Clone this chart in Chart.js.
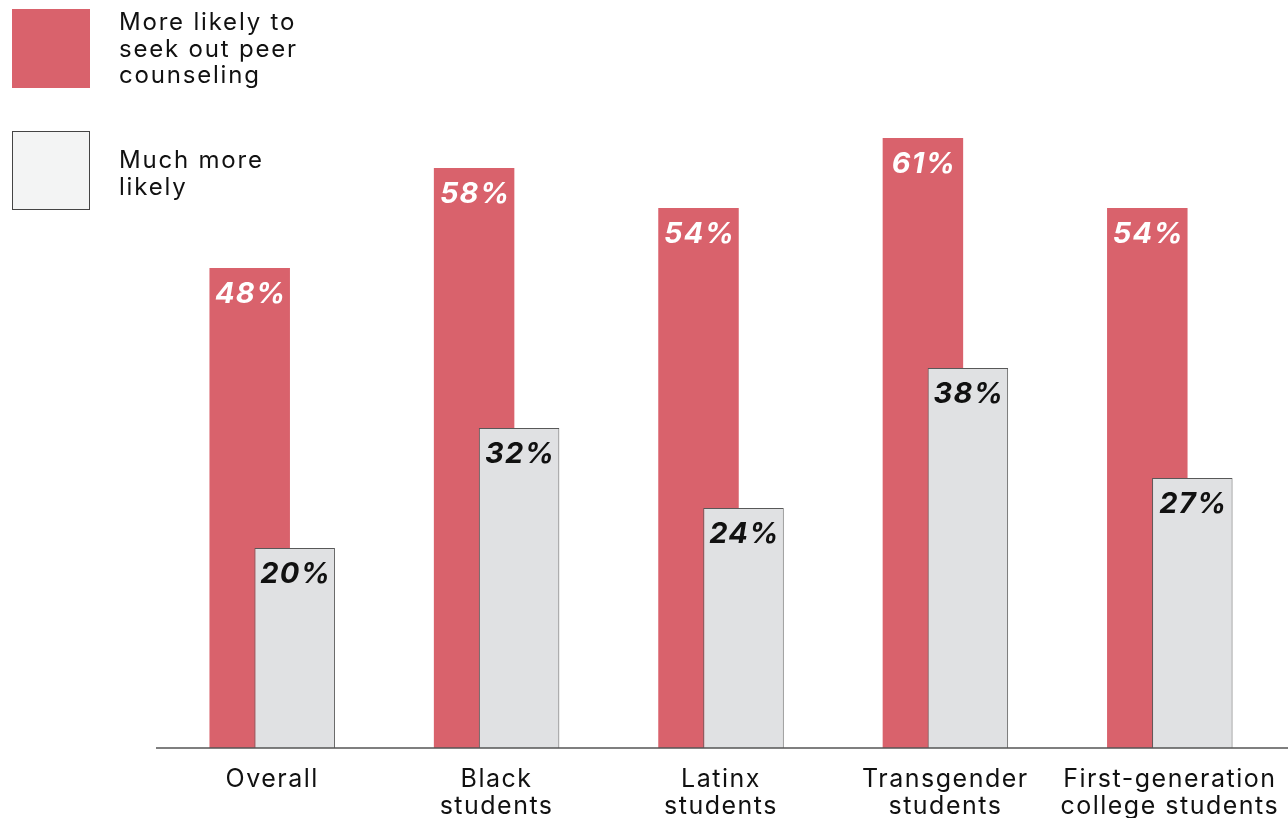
<!DOCTYPE html>
<html>
<head>
<meta charset="utf-8">
<script src="https://cdn.jsdelivr.net/npm/chart.js"></script>
<style>
  html, body { margin: 0; padding: 0; background: #fff; }
  #wrap { position: relative; width: 1288px; height: 818px; overflow: hidden; }
  #legend { position: absolute; left: 12px; top: 9px; font-family: Inter, sans-serif; font-size: 24px; line-height: 26.5px; letter-spacing: 1.8px; color: #111; }
  .item { position: relative; height: 79px; margin-bottom: 43px; }
  .swatch { position: absolute; left: 0; top: 0; width: 78px; height: 79px; box-sizing: border-box; }
  .label { position: absolute; left: 107px; top: 0; white-space: nowrap; }
  .item + .item .label { top: 16px; }
</style>
</head>
<body>
<div id="wrap">
  <canvas id="myChart" width="1288" height="818"></canvas>
  <div id="legend"></div>
</div>
<script>
const categories = [
  ["Overall"],
  ["Black", "students"],
  ["Latinx", "students"],
  ["Transgender", "students"],
  ["First-generation", "college students"],
];
const moreLikely = [48, 58, 54, 61, 54];
const muchMoreLikely = [20, 32, 24, 38, 27];
const seriesNames = [
  ["More likely to", "seek out peer", "counseling"],
  ["Much more", "likely"],
];

const RED = "#d9626c";
const GREY = "#e0e1e3";
const GREY_LINE = "#585858";

// legend boxes with wrapped text
const legendDiv = document.getElementById("legend");
const swatchStyles = [
  `background:${RED};`,
  `background:#f3f4f4;border:1px solid #444;`,
];
seriesNames.forEach((lines, i) => {
  const item = document.createElement("div");
  item.className = "item";
  item.innerHTML = `<div class="swatch" style="${swatchStyles[i]}"></div>` +
    `<div class="label">${lines.join("<br>")}</div>`;
  legendDiv.append(item);
});

const spacing = {
  id: "spacing",
  beforeUpdate(chart) { chart.ctx.letterSpacing = "1.5px"; },
  beforeDraw(chart) { chart.ctx.letterSpacing = "1.5px"; },
};

// chart.js paints the last dataset first; flip that so grey sits over red
const drawOrder = {
  id: "drawOrder",
  beforeDatasetDraw(chart, args) {
    if (args.index === 1) chart.getDatasetMeta(0).controller.draw();
    if (args.index === 0) return false;
  },
};

// baseline runs a bit past the plot on both sides
const baseline = {
  id: "baseline",
  afterDatasetsDraw(chart) {
    const { ctx, chartArea } = chart;
    const y = chart.scales.y.getPixelForValue(0);
    ctx.save();
    ctx.strokeStyle = "#555";
    ctx.lineWidth = 1.5;
    ctx.beginPath();
    ctx.moveTo(chartArea.left - 4, y);
    ctx.lineTo(chart.width, y);
    ctx.stroke();
    ctx.restore();
  },
};

// percentage labels inside the top of every bar
const valueLabels = {
  id: "valueLabels",
  afterDatasetsDraw(chart) {
    const ctx = chart.ctx;
    const colors = ["#ffffff", "#111111"];
    chart.data.datasets.forEach((ds, i) => {
      const meta = chart.getDatasetMeta(i);
      meta.data.forEach((bar, j) => {
        ctx.save();
        ctx.font = "italic bold 29px Inter, sans-serif";
        ctx.letterSpacing = "1.2px";
        ctx.fillStyle = colors[i];
        ctx.textAlign = "center";
        ctx.textBaseline = "middle";
        ctx.fillText(ds.data[j] + "%", bar.x + 1, bar.y + 26);
        ctx.restore();
      });
    });
  },
};

const canvas = document.getElementById("myChart");
new Chart(canvas, {
  type: "bar",
  data: {
    labels: categories,
    datasets: [
      {
        label: seriesNames[0].join(" "),
        data: moreLikely,
        backgroundColor: RED,
        borderWidth: 0,
      },
      {
        label: seriesNames[1].join(" "),
        data: muchMoreLikely,
        backgroundColor: GREY,
        borderColor: GREY_LINE,
        borderWidth: 1,
        borderSkipped: "bottom",
      },
    ],
  },
  options: {
    responsive: false,
    animation: false,
    categoryPercentage: 0.401,
    barPercentage: 1.789,
    layout: { padding: { left: 160, right: 6, top: 28, bottom: 0 } },
    plugins: {
      legend: { display: false },
      tooltip: { enabled: false },
    },
    scales: {
      x: {
        grid: { display: false, drawTicks: false },
        border: { display: false },
        ticks: {
          color: "#111",
          padding: 18,
          maxRotation: 0,
          autoSkip: false,
          font: { family: "Inter, sans-serif", size: 25, lineHeight: 1.08 },
        },
        afterFit(scale) {
          // labels may run past the plot edges; don't let that shrink the plot
          scale.height = 70;
          scale.paddingLeft = 0;
          scale.paddingRight = 0;
        },
      },
      y: {
        display: false,
        min: 0,
        max: 72,
      },
    },
  },
  plugins: [spacing, drawOrder, baseline, valueLabels],
});
</script>
</body>
</html>
